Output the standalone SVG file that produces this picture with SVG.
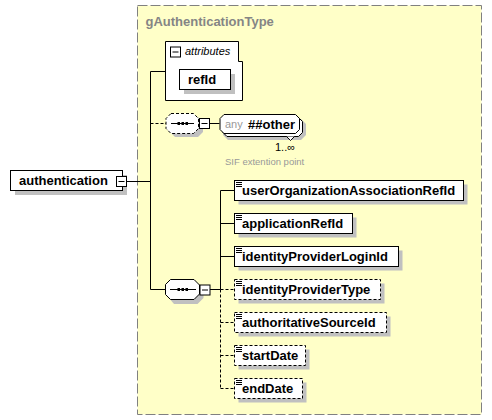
<svg xmlns="http://www.w3.org/2000/svg" width="492" height="420" viewBox="0 0 492 420">
<style>
.box{fill:#fff;stroke:#000;stroke-width:1}
.opt{fill:#fff;stroke:#000;stroke-width:1;stroke-dasharray:3,2}
.sh{fill:#c0c0c0}
.ln{fill:none;stroke:#000;stroke-width:1}
.dl{fill:none;stroke:#000;stroke-width:1;stroke-dasharray:3,2}
.t{font-family:"Liberation Sans",Arial,sans-serif;font-size:13px;font-weight:bold;fill:#000}
.s{font-family:"Liberation Sans",Arial,sans-serif;font-size:11px;fill:#000}
.g{font-family:"Liberation Sans",Arial,sans-serif;fill:#999}
.ic{stroke:#000;stroke-width:1}
</style>
<defs>
<g id="minus"><rect x="0.5" y="0.5" width="10" height="10" fill="#fff" stroke="#000"/><line x1="2.5" y1="5.5" x2="8.5" y2="5.5" stroke="#000"/></g>
<g id="icon"><line x1="0" y1="0.5" x2="6" y2="0.5" class="ic"/><line x1="0" y1="2.5" x2="6" y2="2.5" class="ic"/><line x1="0" y1="4.5" x2="6" y2="4.5" class="ic"/></g>
</defs>
<g id="group">
<rect x="137.5" y="5.5" width="344" height="409" fill="#ffffc8" stroke="#808080" stroke-dasharray="10,3"/>
<text x="145.5" y="26" class="g" font-size="13" font-weight="bold" style="fill:#858585">gAuthenticationType</text>
</g>
<g id="connectors">
<line x1="127" y1="181.5" x2="150.5" y2="181.5" class="ln"/>
<line x1="150.5" y1="71.5" x2="150.5" y2="289.5" class="ln"/>
<line x1="150.5" y1="71.5" x2="166" y2="71.5" class="ln"/>
<line x1="150.5" y1="123.5" x2="166" y2="123.5" class="dl"/>
<line x1="150.5" y1="289.5" x2="165.5" y2="289.5" class="ln"/>
<line x1="210" y1="123.5" x2="219.5" y2="123.5" class="ln"/>
<line x1="210" y1="289.5" x2="220.5" y2="289.5" class="ln"/>
<line x1="220.5" y1="190.5" x2="220.5" y2="289.5" class="ln"/>
<line x1="220.5" y1="289.5" x2="220.5" y2="388.5" class="dl"/>
<line x1="220.5" y1="190.5" x2="234" y2="190.5" class="ln"/>
<line x1="220.5" y1="223.5" x2="234" y2="223.5" class="ln"/>
<line x1="220.5" y1="256.5" x2="234" y2="256.5" class="ln"/>
<line x1="220.5" y1="289.5" x2="234" y2="289.5" class="dl"/>
<line x1="220.5" y1="322.5" x2="234" y2="322.5" class="dl"/>
<line x1="220.5" y1="355.5" x2="234" y2="355.5" class="dl"/>
<line x1="220.5" y1="388.5" x2="234" y2="388.5" class="dl"/>
</g>
<g id="authentication">
<rect x="15" y="175" width="112" height="20" class="sh"/>
<rect x="10.5" y="170.5" width="112" height="20" class="box"/>
<text x="19" y="185" class="t">authentication</text>
<use href="#minus" x="116" y="176"/>
</g>
<g id="attributes">
<path d="M165.5,41.5 H238.5 V61.5 H242.5 V100.5 H165.5 Z" class="box"/>
<use href="#minus" x="170" y="46.5"/>
<text x="185" y="54.5" class="s" font-style="italic">attributes</text>
</g>
<g id="refId">
<rect x="184" y="74" width="51" height="20" class="sh"/>
<rect x="179.5" y="69.5" width="51" height="20" class="box"/>
<text x="188" y="84" class="t">refId</text>
</g>
<g id="seq1">
<path d="M175,117 H198 L203,122 V132 L198,137 H175 L170,132 V122 Z" class="sh"/>
<path d="M171,113.5 H193.5 L198.5,118.5 V128.5 L193.5,133.5 H171 L166,128.5 V118.5 Z" class="opt"/>
<line x1="171" y1="123.5" x2="194" y2="123.5" class="ln"/>
<rect x="177.5" y="122" width="2.5" height="3"/><rect x="181.5" y="122" width="2.5" height="3"/><rect x="185.5" y="122" width="2.5" height="3"/>
<use href="#minus" x="199" y="118"/>
</g>
<g id="any">
<path d="M228,119 H301 L306,124 V135 L301,140 H228 L223,135 V124 Z" class="sh"/>
<path d="M227,117.5 H298.5 L302.5,121.5 V132.5 L298.5,136.5 H227 L223,132.5 V121.5 Z" class="box"/>
<path d="M286.5,136.5 L290.5,140.5 L294.5,136.5" class="box"/>
<path d="M224,114.5 H295.5 L299.5,118.5 V129.5 L295.5,133.5 H224 L220,129.5 V118.5 Z" class="box"/>
<text x="225" y="128" class="g" font-size="11">any</text>
<text x="248" y="128.5" class="t">##other</text>
<text x="275" y="151" class="s">1..∞</text>
<text x="225" y="165" class="g" font-size="9.5">SIF extention point</text>
</g>
<g id="seq2">
<path d="M174,284 H197.5 L203.5,290 V298 L197.5,304 H174 L169,298 V290 Z" class="sh"/>
<path d="M170.5,279.5 H194 L199.5,285 V294 L194,299.5 H170.5 L165.5,294.5 V284.5 Z" class="box"/>
<line x1="170" y1="289.5" x2="196" y2="289.5" class="ln"/>
<rect x="177.5" y="288" width="2.5" height="3"/><rect x="181.5" y="288" width="2.5" height="3"/><rect x="185.5" y="288" width="2.5" height="3"/>
<use href="#minus" x="199.5" y="284.5"/>
</g>
<g id="userOrganizationAssociationRefId">
<rect x="238.5" y="184.5" width="229" height="20" class="sh"/>
<rect x="234.5" y="180.5" width="229" height="20" class="box"/>
<use href="#icon" x="236" y="182"/>
<text x="242" y="195" class="t">userOrganizationAssociationRefId</text>
</g>
<g id="applicationRefId">
<rect x="238.5" y="217.5" width="118" height="20" class="sh"/>
<rect x="234.5" y="213.5" width="118" height="20" class="box"/>
<use href="#icon" x="236" y="215"/>
<text x="242" y="228" class="t">applicationRefId</text>
</g>
<g id="identityProviderLoginId">
<rect x="238.5" y="250.5" width="164" height="20" class="sh"/>
<rect x="234.5" y="246.5" width="164" height="20" class="box"/>
<use href="#icon" x="236" y="248"/>
<text x="242" y="261" class="t">identityProviderLoginId</text>
</g>
<g id="identityProviderType">
<rect x="238.5" y="283.5" width="146" height="20" class="sh"/>
<rect x="234.5" y="279.5" width="146" height="20" class="opt"/>
<use href="#icon" x="236" y="281"/>
<text x="242" y="294" class="t">identityProviderType</text>
</g>
<g id="authoritativeSourceId">
<rect x="238.5" y="316.5" width="152" height="20" class="sh"/>
<rect x="234.5" y="312.5" width="152" height="20" class="opt"/>
<use href="#icon" x="236" y="314"/>
<text x="242" y="327" class="t">authoritativeSourceId</text>
</g>
<g id="startDate">
<rect x="238.5" y="349.5" width="71" height="20" class="sh"/>
<rect x="234.5" y="345.5" width="71" height="20" class="opt"/>
<use href="#icon" x="236" y="347"/>
<text x="242" y="360" class="t">startDate</text>
</g>
<g id="endDate">
<rect x="238.5" y="382.5" width="68" height="20" class="sh"/>
<rect x="234.5" y="378.5" width="68" height="20" class="opt"/>
<use href="#icon" x="236" y="380"/>
<text x="242" y="393" class="t">endDate</text>
</g>
</svg>
